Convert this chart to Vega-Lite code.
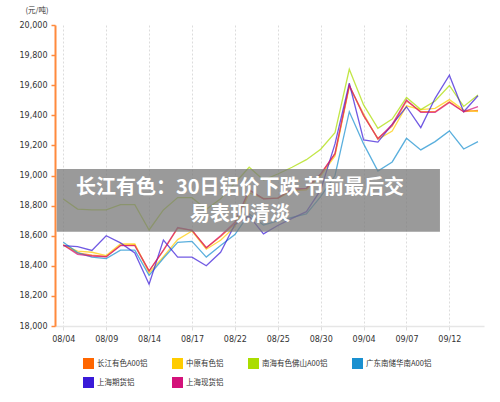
{
  "$schema": "https://vega.github.io/schema/vega-lite/v6.json",
  "width": 429,
  "height": 301,
  "autosize": {"type": "none"},
  "padding": {"left": 55, "top": 25, "right": 16, "bottom": 76},
  "background": "white",
  "config": {"view": {"stroke": null}, "font": "Noto Sans CJK SC"},
  "encoding": {
    "x": {
      "field": "i", "type": "quantitative", "title": null,
      "scale": {"domain": [-0.58, 29.42], "nice": false, "zero": false},
      "axis": {
        "values": [0,3,6,9,12,15,18,21,24,27],
        "labelExpr": "['08/04','08/09','08/14','08/17','08/22','08/25','08/30','09/04','09/07','09/12'][round(datum.value/3)]",
        "grid": true, "gridColor": "#dcdcdc", "gridDash": [2,2], "gridWidth": 1,
        "domainColor": "#e6e6e6", "domainWidth": 1.5,
        "tickColor": "#dddddd", "tickSize": 4,
        "labelFontSize": 8, "labelColor": "#333333", "labelPadding": 5,
        "labelFont": "DejaVu Sans"
      }
    },
    "y": {
      "field": "v", "type": "quantitative", "title": "(元/吨)",
      "scale": {"domain": [18000, 20000], "nice": false, "zero": false},
      "axis": {
        "titleAngle": 0, "titleX": -7, "titleY": -15,
        "titleAlign": "right", "titleBaseline": "middle",
        "titleFontSize": 7.5, "titleFontWeight": "normal", "titleColor": "#333333",
        "values": [18000,18200,18400,18600,18800,19000,19200,19400,19600,19800,20000],
        "labelExpr": "format(datum.value, ',.0f')", "grid": false,
        "domainColor": "#ff8a3d", "domainWidth": 2,
        "tickColor": "#ff8a3d", "tickSize": 4, "tickWidth": 1.5,
        "labelFontSize": 8, "labelColor": "#333333", "labelPadding": 4,
        "labelFont": "DejaVu Sans"
      }
    }
  },
  "layer": [
    {
      "data": {"values": [
        {"i":0,"长江有色A00铝":18540,"中原有色铝":18538,"南海有色佛山A00铝":18844,"广东南储华南A00铝":18556,"上海期货铝":18534,"上海现货铝":18538},
        {"i":1,"长江有色A00铝":18485,"中原有色铝":18497,"南海有色佛山A00铝":18777,"广东南储华南A00铝":18488,"上海期货铝":18527,"上海现货铝":18476},
        {"i":2,"长江有色A00铝":18470,"中原有色铝":18490,"南海有色佛山A00铝":18771,"广东南储华南A00铝":18458,"上海期货铝":18502,"上海现货铝":18465},
        {"i":3,"长江有色A00铝":18462,"中原有色铝":18468,"南海有色佛山A00铝":18771,"广东南储华南A00铝":18448,"上海期货铝":18600,"上海现货铝":18460},
        {"i":4,"长江有色A00铝":18536,"中原有色铝":18545,"南海有色佛山A00铝":18806,"广东南储华南A00铝":18504,"上海期货铝":18552,"上海现货铝":18534},
        {"i":5,"长江有色A00铝":18538,"中原有色铝":18545,"南海有色佛山A00铝":18806,"广东南储华南A00铝":18504,"上海期货铝":18485,"上海现货铝":18534},
        {"i":6,"长江有色A00铝":18367,"中原有色铝":18352,"南海有色佛山A00铝":18638,"广东南储华南A00铝":18336,"上海期货铝":18277,"上海现货铝":18365},
        {"i":7,"长江有色A00铝":18500,"中原有色铝":18460,"南海有色佛山A00铝":18771,"广东南储华南A00铝":18450,"上海期货铝":18571,"上海现货铝":18505},
        {"i":8,"长江有色A00铝":18650,"中原有色铝":18574,"南海有色佛山A00铝":18853,"广东南储华南A00铝":18556,"上海期货铝":18458,"上海现货铝":18655},
        {"i":9,"长江有色A00铝":18635,"中原有色铝":18631,"南海有色佛山A00铝":18853,"广东南储华南A00铝":18562,"上海期货铝":18458,"上海现货铝":18635},
        {"i":10,"长江有色A00铝":18520,"中原有色铝":18510,"南海有色佛山A00铝":18775,"广东南储华南A00铝":18458,"上海期货铝":18400,"上海现货铝":18520},
        {"i":11,"长江有色A00铝":18595,"中原有色铝":18570,"南海有色佛山A00铝":18845,"广东南储华南A00铝":18535,"上海期货铝":18490,"上海现货铝":18600},
        {"i":12,"长江有色A00铝":18680,"中原有色铝":18660,"南海有色佛山A00铝":18950,"广东南储华南A00铝":18608,"上海期货铝":18675,"上海现货铝":18690},
        {"i":13,"长江有色A00铝":18900,"中原有色铝":18885,"南海有色佛山A00铝":19055,"广东南储华南A00铝":18745,"上海期货铝":18730,"上海现货铝":18905},
        {"i":14,"长江有色A00铝":18845,"中原有色铝":18848,"南海有色佛山A00铝":18970,"广东南储华南A00铝":18671,"上海期货铝":18612,"上海现货铝":18845},
        {"i":15,"长江有色A00铝":18850,"中原有色铝":18848,"南海有色佛山A00铝":19010,"广东南储华南A00铝":18698,"上海期货铝":18668,"上海现货铝":18850},
        {"i":16,"长江有色A00铝":18905,"中原有色铝":18898,"南海有色佛山A00铝":19055,"广东南储华南A00铝":18722,"上海期货铝":18715,"上海现货铝":18910},
        {"i":17,"长江有色A00铝":18912,"中原有色铝":18905,"南海有色佛山A00铝":19105,"广东南储华南A00铝":18745,"上海期货铝":18760,"上海现货铝":18915},
        {"i":18,"长江有色A00铝":19008,"中原有色铝":18998,"南海有色佛山A00铝":19175,"广东南储华南A00铝":18860,"上海期货铝":18904,"上海现货铝":19010},
        {"i":19,"长江有色A00铝":19145,"中原有色铝":19130,"南海有色佛山A00铝":19284,"广东南储华南A00铝":19000,"上海期货铝":19210,"上海现货铝":19145},
        {"i":20,"长江有色A00铝":19598,"中原有色铝":19590,"南海有色佛山A00铝":19706,"广东南储华南A00铝":19424,"上海期货铝":19613,"上海现货铝":19600},
        {"i":21,"长江有色A00铝":19395,"中原有色铝":19410,"南海有色佛山A00铝":19469,"广东南储华南A00铝":19210,"上海期货铝":19236,"上海现货铝":19400},
        {"i":22,"长江有色A00铝":19247,"中原有色铝":19240,"南海有色佛山A00铝":19314,"广东南储华南A00铝":19030,"上海期货铝":19222,"上海现货铝":19243},
        {"i":23,"长江有色A00铝":19328,"中原有色铝":19295,"南海有色佛山A00铝":19375,"广东南储华南A00铝":19090,"上海期货铝":19340,"上海现货铝":19340},
        {"i":24,"长江有色A00铝":19495,"中原有色铝":19463,"南海有色佛山A00铝":19518,"广东南储华南A00铝":19247,"上海期货铝":19457,"上海现货铝":19502},
        {"i":25,"长江有色A00铝":19424,"中原有色铝":19438,"南海有色佛山A00铝":19438,"广东南储华南A00铝":19170,"上海期货铝":19318,"上海现货铝":19420},
        {"i":26,"长江有色A00铝":19424,"中原有色铝":19446,"南海有色佛山A00铝":19495,"广东南储华南A00铝":19225,"上海期货铝":19513,"上海现货铝":19420},
        {"i":27,"长江有色A00铝":19490,"中原有色铝":19504,"南海有色佛山A00铝":19598,"广东南储华南A00铝":19296,"上海期货铝":19666,"上海现货铝":19485},
        {"i":28,"长江有色A00铝":19424,"中原有色铝":19435,"南海有色佛山A00铝":19459,"广东南储华南A00铝":19176,"上海期货铝":19424,"上海现货铝":19424},
        {"i":29,"长江有色A00铝":19432,"中原有色铝":19424,"南海有色佛山A00铝":19535,"广东南储华南A00铝":19225,"上海期货铝":19530,"上海现货铝":19457}
      ]},
      "transform": [
        {"fold": ["长江有色A00铝","中原有色铝","南海有色佛山A00铝","广东南储华南A00铝","上海期货铝","上海现货铝"], "as": ["s","v"]}
      ],
      "mark": {"type": "line", "strokeWidth": 1.3, "opacity": 0.72},
      "encoding": {
        "color": {
          "field": "s", "type": "nominal",
          "scale": {
            "domain": ["长江有色A00铝","中原有色铝","南海有色佛山A00铝","广东南储华南A00铝","上海期货铝","上海现货铝"],
            "range": ["#ff6600","#ffcc00","#aadd00","#1a90d0","#3a1ad8","#d4127a"]
          },
          "legend": {
            "orient": "none", "legendX": 28, "legendY": 333,
            "title": null, "columns": 4, "direction": "horizontal",
            "padding": 0,
            "symbolType": "square", "symbolSize": 121, "symbolStrokeWidth": 0, "symbolOpacity": 1,
            "labelFontSize": 7.5, "labelColor": "#333333", "labelOffset": 3,
            "columnPadding": 24, "rowPadding": 8,
            "labelFont": "Noto Sans CJK SC",
            "encode": {"symbols": {"update": {"fill": {"scale": "color", "field": "value"}, "strokeWidth": {"value": 0}}}}
          }
        },
        "order": {"field": "i", "type": "quantitative"}
      }
    },
    {
      "data": {"values": [{"i": -0.46, "i2": 26.34, "v": 18627, "v2": 19043}]},
      "mark": {"type": "rect", "fill": "#7a7a7a", "opacity": 0.76},
      "encoding": {
        "x2": {"field": "i2"},
        "y2": {"field": "v2"}
      }
    },
    {
      "data": {"values": [
        {"i": 12.36, "v": 18874, "t": ["长江有色：30日铝价下跌 节前最后交", "易表现清淡"]}
      ]},
      "mark": {"type": "text", "align": "center", "baseline": "alphabetic", "fontSize": 20, "lineHeight": 26.5, "fontWeight": "bold", "color": "white", "font": "Noto Sans CJK SC"},
      "encoding": {
        "text": {"field": "t"}
      }
    }
  ]
}
